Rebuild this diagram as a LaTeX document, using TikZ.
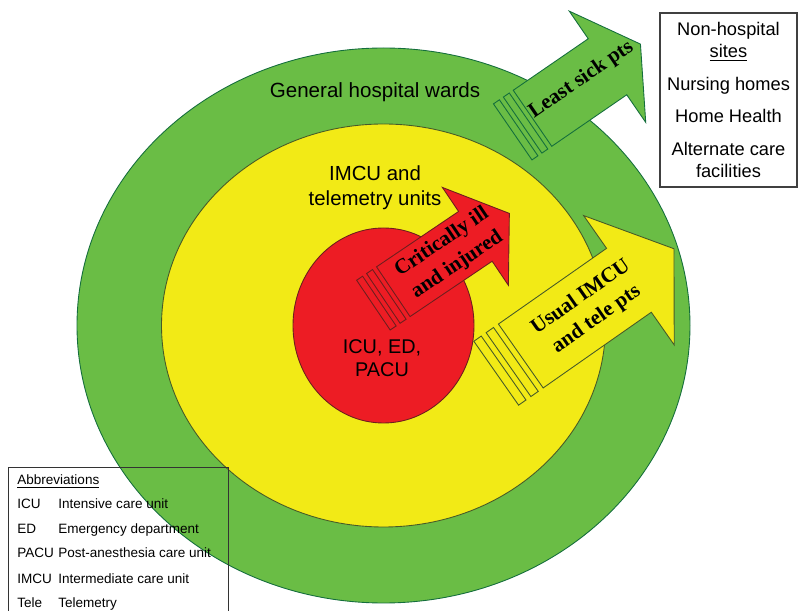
\documentclass[tikz,border=0pt]{standalone}
\usepackage{fontspec}
\setmainfont{Liberation Sans}
\newfontfamily\arrowfont{Liberation Serif}
\usepackage{tikz}
\usetikzlibrary{positioning}

\definecolor{wardgreen}{RGB}{106,189,69}
\definecolor{wardline}{RGB}{20,110,60}
\definecolor{imcuyellow}{RGB}{242,234,22}
\definecolor{imculine}{RGB}{70,90,40}
\definecolor{icured}{RGB}{237,28,36}
\definecolor{iculine}{RGB}{110,30,30}

\tikzset{
  ring/.style={line width=0.5pt},
  labeltext/.style={font=\fontsize{11.6}{14.2}\selectfont, align=center, inner sep=0pt},
  arrowtext/.style={font=\arrowfont\bfseries\fontsize{12}{15.5}\selectfont, align=center, inner sep=0pt},
  keytext/.style={font=\fontsize{7.7}{9}\selectfont, anchor=base west, inner sep=0pt},
  keybox/.style={draw=black!80, line width=0.5pt},
}

% striped block arrow, drawn along the local x axis from the shaft end
\newcommand{\stripedarrow}[6]{%
  \draw[#1] (0,-#3) -- (#2,-#3) -- (#2,-#5) -- ({#2+#4},0) -- (#2,#5) -- (#2,#3) -- (0,#3) -- cycle;
  \draw[#1] ({-0.2*#6},-#3) rectangle ({-0.5*#6},#3);
  \draw[#1] ({-0.7*#6},-#3) rectangle ({-#6},#3);
}

\begin{document}
\begin{tikzpicture}[x=0.02cm, y=-0.02cm]
\useasboundingbox (0,0) rectangle (799,611);
\clip (0,0) rectangle (799,611);
% rings
\coordinate (O) at (383.5,325.5);
\draw[ring, fill=wardgreen, draw=wardline] (O) ellipse [x radius=306.5, y radius=277.5];
\draw[ring, fill=imcuyellow, draw=imculine] (O) ellipse [x radius=222, y radius=201.5];
\draw[ring, fill=icured, draw=iculine] (O) ellipse [x radius=90.5, y radius=97.5];
\node[labeltext, font=\fontsize{11.7}{14}\selectfont] (wards) at (375,92) {General hospital wards};
\node[labeltext] (imcu) at (375,187.5) {IMCU and\\telemetry units};
\node[labeltext, font=\fontsize{11.3}{13}\selectfont] (icu) at (382,358) {ICU, ED,\\PACU};
% arrows
\begin{scope}[shift={(393.3,291.7)}, rotate=34]
  \stripedarrow{fill=icured, draw=iculine, line width=0.5pt}{99}{30}{41}{59}{24}
  \node[arrowtext, rotate=34] (crit) at (68,0) {Critically ill\\and injured};
\end{scope}
\begin{scope}[shift={(520.8,356)}, rotate=35]
  \stripedarrow{fill=imcuyellow, draw=imculine, line width=0.5pt}{132}{39}{55}{79}{30}
  \node[arrowtext, rotate=35] (usual) at (83,0) {Usual IMCU\\and tele pts};
\end{scope}
\begin{scope}[shift={(532.5,118.3)}, rotate=34.5]
  \stripedarrow{fill=wardgreen, draw=wardline, line width=0.5pt}{91}{34}{40}{67.5}{24}
  \node[arrowtext, rotate=34.5] (least) at (62,-4) {Least sick pts};
\end{scope}
% non-hospital sites
\node[draw=black!75, line width=0.6pt, minimum width=2.74cm, minimum height=3.48cm, inner sep=0pt,
  align=center, font=\fontsize{10.4}{12.5}\selectfont] (sites) at (728.5,100)
  {Non-hospital\\\underline{sites}\\[6pt]Nursing homes\\[6pt]Home Health\\[6pt]Alternate care\\facilities};
% abbreviations
\draw[keybox] (8,467) rectangle (228,640);
\node[keytext] (abbr) at (17,485) {\underline{Abbreviations}};
\node[keytext] (icuk) at (17,509) {ICU};
\node[keytext] (icud) at (58,509) {Intensive care unit};
\node[keytext] (edk) at (17,534) {ED};
\node[keytext] (edd) at (58,534) {Emergency department};
\node[keytext] (pacuk) at (17,558) {PACU};
\node[keytext] (pacud) at (58,558) {Post-anesthesia care unit};
\node[keytext] (imcuk) at (17,583) {IMCU};
\node[keytext] (imcud) at (58,583) {Intermediate care unit};
\node[keytext] (telek) at (17,608) {Tele};
\node[keytext] (teled) at (58,608) {Telemetry};
\end{tikzpicture}
\end{document}
